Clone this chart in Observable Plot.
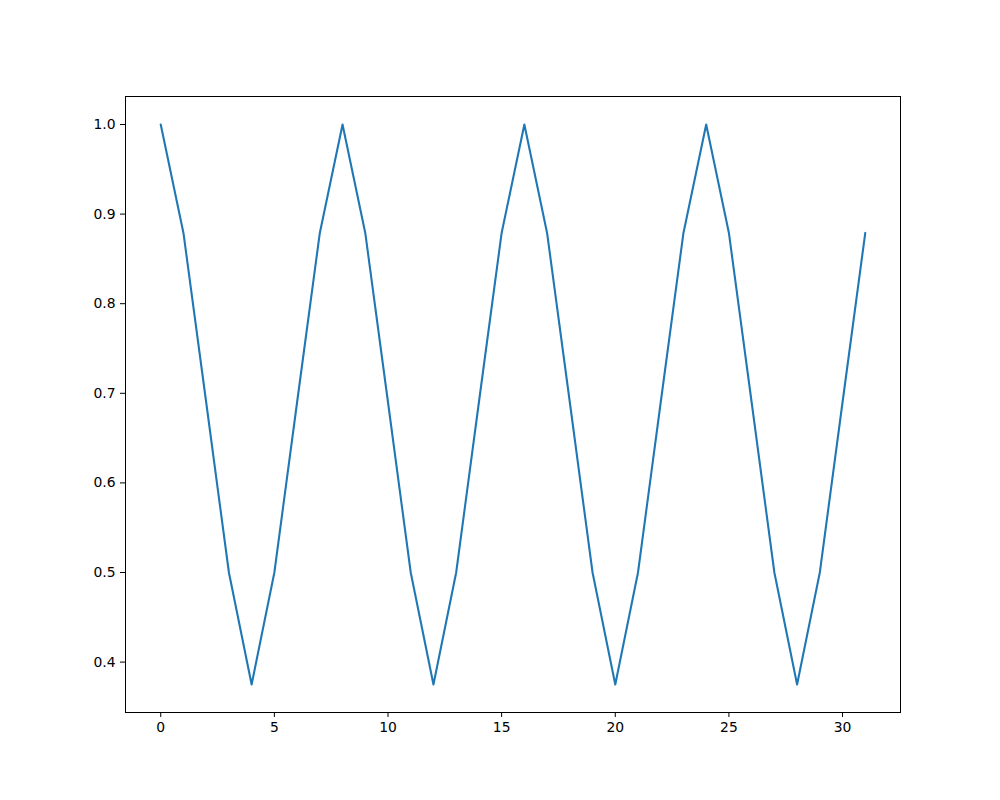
<!DOCTYPE html>
<html>
<head>
<meta charset="utf-8">
<script src="https://cdn.jsdelivr.net/npm/d3@7"></script>
<script src="https://cdn.jsdelivr.net/npm/@observablehq/plot@0.6"></script>
<style>
  html, body { margin: 0; padding: 0; background: #fff; }
  #chart svg { display: block; }
</style>
</head>
<body>
<div id="chart"></div>
<script>
const xValues = Array.from({length: 32}, (_, i) => i);
const yValues = [
  1.0, 0.879, 0.69, 0.5, 0.375, 0.5, 0.69, 0.879,
  1.0, 0.879, 0.69, 0.5, 0.375, 0.5, 0.69, 0.879,
  1.0, 0.879, 0.69, 0.5, 0.375, 0.5, 0.69, 0.879,
  1.0, 0.879, 0.69, 0.5, 0.375, 0.5, 0.69, 0.879
];
const xTicks = [0, 5, 10, 15, 20, 25, 30];
const yTicks = [0.4, 0.5, 0.6, 0.7, 0.8, 0.9, 1.0];

const data = xValues.map((x, i) => ({x, y: yValues[i]}));

const chart = Plot.plot({
  width: 1000,
  height: 800,
  marginLeft: 125,
  marginRight: 100,
  marginTop: 96,
  marginBottom: 88,
  style: {fontFamily: "DejaVu Sans", fontSize: "13.9px", color: "#000", background: "#fff"},
  x: {domain: [-1.55, 32.55], ticks: xTicks, tickSize: 5, tickPadding: 5, tickFormat: d3.format("d"), label: null},
  y: {domain: [0.34375, 1.03125], ticks: yTicks, tickSize: 5, tickPadding: 5, tickFormat: d3.format(".1f"), label: null},
  marks: [
    Plot.frame({stroke: "#000", strokeWidth: 1}),
    Plot.line(data, {x: "x", y: "y", stroke: "#1f77b4", strokeWidth: 2.08}),
    Plot.axisX({ticks: xTicks, tickSize: 5, tickPadding: 5, tickFormat: d3.format("d"), label: null, stroke: "#000"}),
    Plot.axisY({ticks: yTicks, tickSize: 5, tickPadding: 5, tickFormat: d3.format(".1f"), label: null, stroke: "#000"})
  ]
});
document.getElementById("chart").appendChild(chart);
</script>
</body>
</html>
